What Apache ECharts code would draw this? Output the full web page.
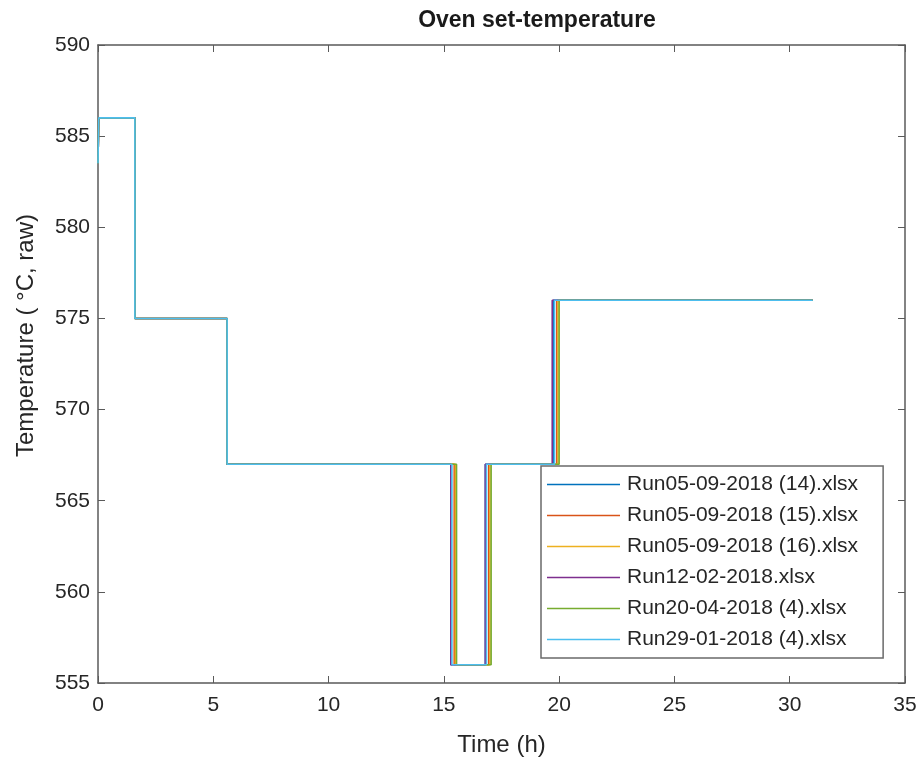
<!DOCTYPE html>
<html>
<head>
<meta charset="utf-8">
<script src="https://cdn.jsdelivr.net/npm/echarts@6/dist/echarts.min.js"></script>
<style>
  html, body { margin: 0; padding: 0; background: #fff; }
  #main { width: 920px; height: 764px; }
</style>
</head>
<body>
<div id="main"></div>
<script>
// 序列名称
var runNames = [
  'Run05-09-2018 (14).xlsx',
  'Run05-09-2018 (15).xlsx',
  'Run05-09-2018 (16).xlsx',
  'Run12-02-2018.xlsx',
  'Run20-04-2018 (4).xlsx',
  'Run29-01-2018 (4).xlsx'
]
var runColors = ['#0072BD', '#D95319', '#EDB120', '#7E2F8E', '#77AC30', '#4DBEEE']

// 每次切换温度的时间点 (h)
var times14 = [0, 0.03, 1.6, 5.6, 15.3, 16.8, 19.75, 31]
var times15 = [0, 0.03, 1.6, 5.6, 15.45, 16.95, 19.9, 31]
var times16 = [0, 0.03, 1.6, 5.6, 15.5, 17.0, 19.95, 31]
var times1202 = [0, 0.03, 1.6, 5.6, 15.3, 16.8, 19.7, 31]
var times2004 = [0, 0.03, 1.6, 5.6, 15.55, 17.05, 20.0, 31]
var times2901 = [0, 0.03, 1.6, 5.6, 15.35, 16.85, 19.8, 31]
// 设定温度 (每段的值)
var setTemps = [583.5, 586, 575, 567, 556, 567, 576, 576]

var xTicks = [0, 5, 10, 15, 20, 25, 30, 35]
var yTicks = [555, 560, 565, 570, 575, 580, 585, 590]

var allTimes = [times14, times15, times16, times1202, times2004, times2901]

var font = 'Liberation Sans, Arial, Helvetica, sans-serif'
var axisColor = '#5a5a5a'

var series = runNames.map(function (name, i) {
  return {
    name: name,
    type: 'line',
    step: 'end',
    symbol: 'none',
    data: allTimes[i].map(function (t, k) { return [t, setTemps[k]] }),
    lineStyle: { color: runColors[i], width: 1.6 },
    itemStyle: { color: runColors[i] }
  }
})

var chart = echarts.init(document.getElementById('main'))
var option = {
  animation: false,
  backgroundColor: '#fff',
  title: {
    text: 'Oven set-temperature',
    left: 532,
    top: 4,
    textAlign: 'center',
    textStyle: { fontFamily: font, fontSize: 23, fontWeight: 'bold', color: '#1a1a1a' }
  },
  legend: {
    orient: 'vertical',
    left: 541,
    top: 466,
    itemWidth: 73,
    itemHeight: 10,
    itemGap: 10,
    padding: [8, 25, 8, 6],
    backgroundColor: '#fff',
    borderColor: '#6a6a6a',
    borderWidth: 1.5,
    icon: 'path://M0,5 L73,5 L73,6.5 L0,6.5 Z',
    data: runNames,
    textStyle: { fontFamily: font, fontSize: 21, color: '#262626', padding: [0, 0, 0, 2] }
  },
  // 纵轴标题单独画，位置偏上
  graphic: [{
    type: 'text',
    left: 14,
    top: 214,
    rotation: Math.PI / 2,
    style: {
      text: 'Temperature ( °C, raw)',
      font: '24px ' + font,
      fill: '#262626'
    }
  }],
  grid: { left: 98, right: 15, top: 45, bottom: 81, containLabel: false },
  xAxis: [
    {
      type: 'value',
      min: xTicks[0],
      max: xTicks[xTicks.length - 1],
      interval: 5,
      name: 'Time (h)',
      nameLocation: 'middle',
      nameGap: 50,
      nameTextStyle: { fontFamily: font, fontSize: 24, color: '#262626' },
      axisLine: { show: true, onZero: false, lineStyle: { color: axisColor, width: 1.5 } },
      axisTick: { show: true, inside: true, length: 7, lineStyle: { color: axisColor } },
      axisLabel: { fontFamily: font, fontSize: 21, color: '#262626', margin: 12 },
      splitLine: { show: false }
    },
    {
      type: 'value',
      position: 'top',
      min: xTicks[0],
      max: xTicks[xTicks.length - 1],
      interval: 5,
      axisLine: { show: true, onZero: false, lineStyle: { color: axisColor, width: 1.5 } },
      axisTick: { show: true, inside: true, length: 7, lineStyle: { color: axisColor } },
      axisLabel: { show: false },
      splitLine: { show: false }
    }
  ],
  yAxis: [
    {
      type: 'value',
      min: yTicks[0],
      max: yTicks[yTicks.length - 1],
      interval: 5,
      axisLine: { show: true, onZero: false, lineStyle: { color: axisColor, width: 1.5 } },
      axisTick: { show: true, inside: true, length: 7, lineStyle: { color: axisColor } },
      axisLabel: { fontFamily: font, fontSize: 21, color: '#262626', margin: 8 },
      splitLine: { show: false }
    },
    {
      type: 'value',
      position: 'right',
      min: yTicks[0],
      max: yTicks[yTicks.length - 1],
      interval: 5,
      axisLine: { show: true, onZero: false, lineStyle: { color: axisColor, width: 1.5 } },
      axisTick: { show: true, inside: true, length: 7, lineStyle: { color: axisColor } },
      axisLabel: { show: false },
      splitLine: { show: false }
    }
  ],
  series: series
}
chart.setOption(option)
</script>
</body>
</html>
